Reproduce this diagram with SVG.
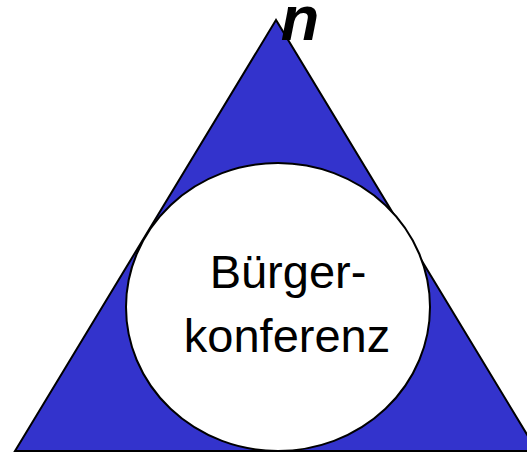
<svg xmlns="http://www.w3.org/2000/svg" width="527" height="454" viewBox="0 0 527 454">
<style>
.shape{stroke:#000;stroke-width:2}
.lbl{font-family:"Liberation Sans",Arial,sans-serif;fill:#000}
</style>
<rect width="527" height="454" fill="#fff"/>
<g id="triangle">
<polygon class="shape" points="276,20 15,451 537,451" fill="#3333CC"/>
</g>
<g id="buergerkonferenz">
<ellipse class="shape" cx="278" cy="307" rx="152" ry="144" fill="#fff"/>
<text class="lbl" x="288" y="288" font-size="47" text-anchor="middle">Bürger-</text>
<text class="lbl" x="287" y="352" font-size="47" text-anchor="middle">konferenz</text>
</g>
<g id="n-label">
<text class="lbl" x="300" y="40" font-size="63" font-weight="bold" font-style="italic" text-anchor="middle">n</text>
</g>
<g id="connectors"/>
</svg>
